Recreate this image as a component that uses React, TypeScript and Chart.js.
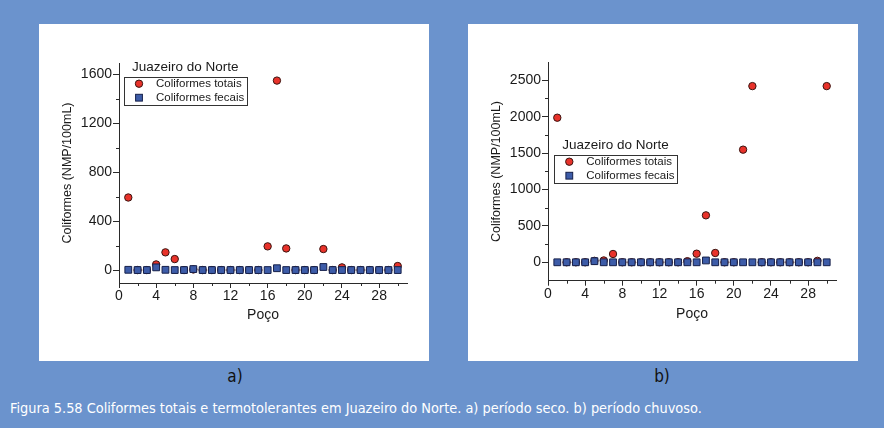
import React, { useEffect, useRef } from 'react';
import { Chart, registerables } from 'chart.js';

Chart.register(...registerables);

// ---------- data ----------
const wells = [1, 2, 3, 4, 5, 6, 7, 8, 9, 10, 11, 12, 13, 14, 15, 16, 17, 18, 19, 20, 21, 22, 23, 24, 25, 26, 27, 28, 29, 30];

// a) período seco
const totaisSeco = [594, 0, 0, 46, 145, 90, 0, 5, 0, 0, 0, 0, 0, 0, 0, 194, 1551, 177, 0, 0, 0, 172, 0, 22, 0, 0, 0, 0, 0, 33];
const fecaisSeco = [2, 0, 0, 22, 2, 0, 0, 8, 0, 0, 0, 0, 0, 0, 0, 0, 15, 0, 0, 0, 0, 25, 0, 0, 0, 0, 0, 0, 0, 0];

// b) período chuvoso
const totaisChuvoso = [1986, 0, 0, 0, 20, 25, 114, 0, 0, 0, 0, 0, 0, 0, 15, 118, 645, 128, 0, 0, 1547, 2420, 0, 0, 0, 0, 0, 0, 20, 2420];
const fecaisChuvoso = [0, 0, 0, 0, 15, 0, 0, 0, 0, 0, 0, 0, 0, 0, 0, 0, 25, 0, 0, 0, 0, 0, 0, 0, 0, 0, 0, 0, 0, 0];

const xMajorTicks = [0, 4, 8, 12, 16, 20, 24, 28];
const xMinorTicks = [2, 6, 10, 14, 18, 22, 26, 30];
const yMajorSeco = [0, 400, 800, 1200, 1600];
const yMinorSeco = [200, 600, 1000, 1400];
const yMajorChuvoso = [0, 500, 1000, 1500, 2000, 2500];
const yMinorChuvoso = [250, 750, 1250, 1750, 2250];

const legendTitle = 'Juazeiro do Norte';
const seriesNames = ['Coliformes totais', 'Coliformes fecais'];
const xTitle = 'Poço';
const yTitle = 'Coliformes (NMP/100mL)';
const panelLabels = ['a)', 'b)'];
const caption = 'Figura 5.58 Coliformes totais e termotolerantes em Juazeiro do Norte. a) período seco. b) período chuvoso.';

// ---------- styles ----------
const FONT = "'Liberation Sans', Arial, sans-serif";
const AXIS = '#2a2a2a';
const TEXT = '#1a1a1a';
const RED = '#e8322a';
const RED_EDGE = '#3a1410';
const BLUE = '#3d5ca8';
const BLUE_EDGE = '#16204a';
const PAGE_BLUE = '#6b93cd';

const PANEL_W = 390;
const PANEL_H = 337;

const decorPlugin = {
  id: 'decor',
  afterDraw(chart: any, _args: any, opts: any) {
    const ctx = chart.ctx as CanvasRenderingContext2D;
    const xs = chart.scales.x;
    const ys = chart.scales.y;
    ctx.save();
    ctx.strokeStyle = AXIS;
    ctx.lineWidth = 1;
    // minor ticks
    ctx.beginPath();
    (opts.xMinor as number[]).forEach((v) => {
      const px = Math.round(xs.getPixelForValue(v)) + 0.5;
      ctx.moveTo(px, chart.chartArea.bottom);
      ctx.lineTo(px, chart.chartArea.bottom + 3);
    });
    (opts.yMinor as number[]).forEach((v) => {
      const py = Math.round(ys.getPixelForValue(v)) + 0.5;
      ctx.moveTo(chart.chartArea.left, py);
      ctx.lineTo(chart.chartArea.left - 3, py);
    });
    ctx.stroke();

    // legend
    const { left, top } = opts.legend;
    const w = 123;
    const h = 28;
    ctx.fillStyle = TEXT;
    ctx.textBaseline = 'middle';
    ctx.textAlign = 'left';
    ctx.font = `13.5px ${FONT}`;
    ctx.fillText(legendTitle, left + 8, top - 9);
    ctx.strokeStyle = '#333';
    ctx.strokeRect(Math.round(left) + 0.5, Math.round(top) + 0.5, w, h);

    const mx = left + 15;
    const r1 = top + 7;
    const r2 = top + 21;
    ctx.beginPath();
    ctx.arc(mx, r1, 3.7, 0, Math.PI * 2);
    ctx.fillStyle = RED;
    ctx.fill();
    ctx.strokeStyle = RED_EDGE;
    ctx.stroke();
    ctx.fillStyle = BLUE;
    ctx.fillRect(mx - 3.4, r2 - 3.4, 6.8, 6.8);
    ctx.strokeStyle = BLUE_EDGE;
    ctx.strokeRect(mx - 3.4, r2 - 3.4, 6.8, 6.8);

    ctx.fillStyle = TEXT;
    ctx.font = `11.5px ${FONT}`;
    ctx.fillText(seriesNames[0], left + 32, r1);
    ctx.fillText(seriesNames[1], left + 32, r2);
    ctx.restore();
  },
};

type PanelCfg = {
  totais: number[];
  fecais: number[];
  yMin: number;
  yMax: number;
  yMajor: number[];
  yMinor: number[];
  padTop: number;
  xAxisHeight: number;
  xTitlePad: number;
  legend: { left: number; top: number };
};

function makeConfig(p: PanelCfg): any {
  return {
    type: 'scatter',
    data: {
      datasets: [
        {
          label: seriesNames[0],
          data: wells.map((w, i) => ({ x: w, y: p.totais[i] })),
          pointStyle: 'circle',
          pointRadius: 3.7,
          backgroundColor: RED,
          borderColor: RED_EDGE,
          borderWidth: 1,
          order: 1,
        },
        {
          label: seriesNames[1],
          data: wells.map((w, i) => ({ x: w, y: p.fecais[i] })),
          pointStyle: 'rect',
          pointRadius: 4.8,
          backgroundColor: BLUE,
          borderColor: BLUE_EDGE,
          borderWidth: 1,
          order: 0,
        },
      ],
    },
    options: {
      animation: false,
      responsive: false,
      events: [],
      layout: { padding: { top: p.padTop, right: 22, left: 0, bottom: 0 } },
      plugins: {
        legend: { display: false },
        tooltip: { enabled: false },
        decor: { xMinor: xMinorTicks, yMinor: p.yMinor, legend: p.legend },
      },
      scales: {
        x: {
          type: 'linear',
          position: 'bottom',
          min: 0,
          max: 31,
          afterBuildTicks: (s: any) => {
            s.ticks = xMajorTicks.map((v) => ({ value: v }));
          },
          afterFit: (s: any) => {
            s.height = p.xAxisHeight;
          },
          grid: { display: true, drawOnChartArea: false, drawTicks: true, tickLength: 5, tickColor: AXIS, tickWidth: 1 },
          border: { display: true, color: AXIS, width: 1 },
          ticks: {
            font: { family: FONT, size: 14 },
            color: TEXT,
            padding: 0,
            maxRotation: 0,
            autoSkip: false,
            callback: (v: any) => String(v),
          },
          title: {
            display: true,
            text: xTitle,
            font: { family: FONT, size: 14 },
            color: TEXT,
            padding: { top: 0, bottom: p.xTitlePad },
          },
        },
        y: {
          type: 'linear',
          position: 'left',
          min: p.yMin,
          max: p.yMax,
          afterBuildTicks: (s: any) => {
            s.ticks = p.yMajor.map((v) => ({ value: v }));
          },
          afterFit: (s: any) => {
            s.width = 80;
          },
          grid: { display: true, drawOnChartArea: false, drawTicks: true, tickLength: 6, tickColor: AXIS, tickWidth: 1 },
          border: { display: true, color: AXIS, width: 1 },
          ticks: {
            font: { family: FONT, size: 14 },
            color: TEXT,
            padding: 1,
            autoSkip: false,
            callback: (v: any) => String(v),
          },
          title: {
            display: true,
            text: yTitle,
            font: { family: FONT, size: 12.5 },
            color: TEXT,
            padding: { top: 21, bottom: 0 },
          },
        },
      },
    },
    plugins: [decorPlugin],
  };
}

function ChartPanel({ cfg }: { cfg: PanelCfg }) {
  const ref = useRef<HTMLCanvasElement | null>(null);
  useEffect(() => {
    if (!ref.current) return;
    const chart = new Chart(ref.current, makeConfig(cfg));
    return () => chart.destroy();
  }, [cfg]);
  return <canvas ref={ref} width={PANEL_W} height={PANEL_H} style={{ display: 'block', width: PANEL_W, height: PANEL_H }} />;
}

const secoCfg: PanelCfg = {
  totais: totaisSeco,
  fecais: fecaisSeco,
  yMin: -106,
  yMax: 1695,
  yMajor: yMajorSeco,
  yMinor: yMinorSeco,
  padTop: 39,
  xAxisHeight: 78,
  xTitlePad: 37,
  legend: { left: 85, top: 52.7 },
};

const chuvosoCfg: PanelCfg = {
  totais: totaisChuvoso,
  fecais: fecaisChuvoso,
  yMin: -253,
  yMax: 2747,
  yMajor: yMajorChuvoso,
  yMinor: yMinorChuvoso,
  padTop: 38.3,
  xAxisHeight: 80.3,
  xTitlePad: 38.6,
  legend: { left: 86.3, top: 130.7 },
};

export default function App() {
  const labelStyle: React.CSSProperties = {
    position: 'absolute',
    top: 364,
    width: 40,
    textAlign: 'center',
    fontFamily: "'Liberation Sans Narrow', 'DejaVu Sans Condensed', 'Liberation Sans', sans-serif",
    fontSize: 17,
    lineHeight: '24px',
    color: '#111',
  };
  return (
    <div style={{ position: 'fixed', left: 0, top: 0, width: 884, height: 428, background: PAGE_BLUE, overflow: 'hidden' }}>
      <div style={{ position: 'absolute', left: 39, top: 24, width: PANEL_W, height: PANEL_H, background: '#fff' }}>
        <ChartPanel cfg={secoCfg} />
      </div>
      <div style={{ position: 'absolute', left: 468, top: 24, width: PANEL_W, height: PANEL_H, background: '#fff' }}>
        <ChartPanel cfg={chuvosoCfg} />
      </div>
      <div style={{ ...labelStyle, left: 215 }}>{panelLabels[0]}</div>
      <div style={{ ...labelStyle, left: 642 }}>{panelLabels[1]}</div>
      <div
        style={{
          position: 'absolute',
          left: 10,
          top: 399,
          whiteSpace: 'nowrap',
          fontFamily: "'Liberation Sans Narrow', 'DejaVu Sans Condensed', 'Liberation Sans', sans-serif",
          fontSize: 14.4,
          lineHeight: '18px',
          color: '#fff',
        }}
      >
        {caption}
      </div>
    </div>
  );
}
